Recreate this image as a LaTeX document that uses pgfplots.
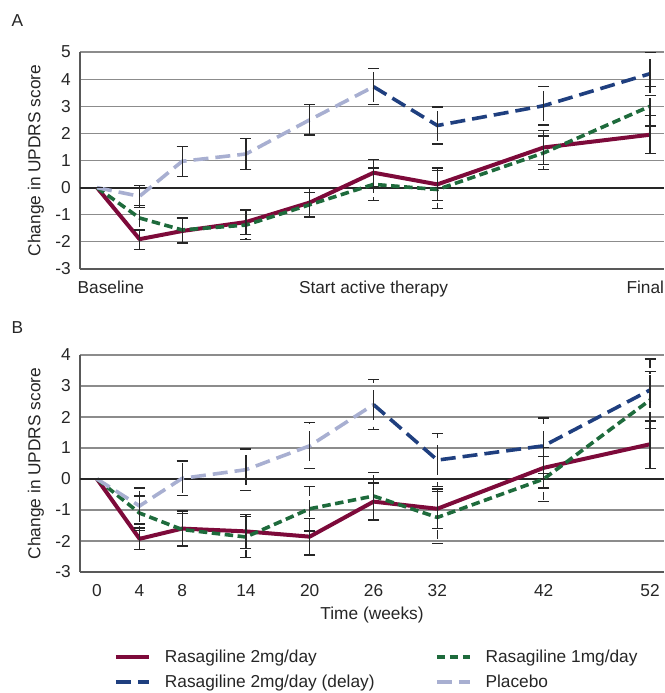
\documentclass[border=0pt]{standalone}
\usepackage{fontspec}
\setmainfont{Liberation Sans}
\usepackage{pgfplots}
\pgfplotsset{compat=1.18}
\usepackage{pgfplotstable}

\definecolor{cRed}{HTML}{7D0A3A}
\definecolor{cGreen}{HTML}{1E6B3C}
\definecolor{cBlue}{HTML}{1F3F7F}
\definecolor{cPlac}{HTML}{A8AFD1}

% Panel A
\pgfplotstableread{
x y e
0 0 0
4 -1.90 0.37
8 -1.60 0.47
14 -1.27 0.47
20 -0.55 0.55
26 0.55 0.50
32 0.12 0.60
42 1.48 0.62
52 1.95 0.70
}\ARed
\pgfplotstableread{
x y e
0 0 0
4 -1.12 0.45
8 -1.56 0.45
14 -1.38 0.53
20 -0.63 0.45
26 0.12 0.60
32 -0.07 0.70
42 1.28 0.62
52 3.00 0.73
}\AGreen
\pgfplotstableread{
x y e
0 0 0
4 -0.32 0.40
8 0.97 0.55
14 1.24 0.57
20 2.50 0.56
26 3.72 0.66
}\APlac
\pgfplotstableread{
x y e
26 3.72 0.66
32 2.29 0.68
42 3.02 0.71
52 4.20 0.79
}\ADelay
% Panel B
\pgfplotstableread{
x y e
0 0 0
4 -1.93 0.35
8 -1.60 0.57
14 -1.69 0.55
20 -1.86 0.59
26 -0.73 0.60
32 -0.96 0.64
42 0.36 0.65
52 1.12 0.77
}\BRed
\pgfplotstableread{
x y e
0 0 0
4 -1.10 0.55
8 -1.63 0.52
14 -1.87 0.65
20 -0.96 0.72
26 -0.55 0.77
32 -1.24 0.83
42 0.00 0.72
52 2.55 0.93
}\BGreen
\pgfplotstableread{
x y e
0 0 0
4 -0.87 0.58
8 0.02 0.56
14 0.30 0.67
20 1.07 0.74
26 2.40 0.80
}\BPlac
\pgfplotstableread{
x y e
26 2.40 0.80
32 0.61 0.86
42 1.07 0.90
52 2.87 1.00
}\BDelay

\pgfplotsset{
 panel/.style={
  scale only axis, width=584pt, height=217pt,
  xmin=-1.6, xmax=53.31,
  axis x line*=bottom, axis y line*=left,
  axis line style={draw=black!65, line width=1.2pt},
  ymajorgrids, grid style={black!45, line width=1.1pt},
  major tick length=0pt, tick style={draw=none},
  yticklabel style={inner sep=0pt, xshift=-9pt, text=black!85},
  xticklabel style={anchor=base, inner sep=0pt, yshift=-24.5pt, text=black!85},
  ylabel={Change in UPDRS score},
  ylabel style={at={(axis description cs:-0.0753,0.5)}, anchor=center, text=black!85},
  extra y ticks={0}, extra y tick labels={},
  extra y tick style={grid style={black!85, line width=1.8pt}},
  clip=false,
  error bars/error bar style={black!85, line width=1.2pt},
  error bars/error mark options={rotate=90, mark size=5.5pt, line width=1.2pt, black!85},
  legend image code/.code={\draw[##1] (0pt,0pt) -- (33pt,0pt);},
 },
 sRed/.style={cRed, line width=4pt, line join=round},
 sGreen/.style={cGreen, line width=3.6pt, dash pattern=on 8.5pt off 4.5pt},
 sBlue/.style={cBlue, line width=3.6pt, dash pattern=on 15pt off 7pt},
 sPlac/.style={cPlac, line width=3.6pt, dash pattern=on 15pt off 7pt},
}

\begin{document}
\begin{tikzpicture}[font=\fontsize{17.3}{20.8}\selectfont]
\node[anchor=base west, text=black!85] at (8pt,666pt) {A};
\node[anchor=base west, text=black!85] at (8pt,359pt) {B};

\begin{axis}[panel, at={(80pt,424pt)}, anchor=south west,
  ymin=-3, ymax=5, ytick={-3,-2,-1,0,1,2,3,4,5},
  yticklabels={-3,-2,-1,0,1,2,3,4,5},
  xtick={1.3,26,51.55}, xticklabels={Baseline,Start active therapy,Final}]
\addplot[sRed, error bars/.cd, y dir=both, y explicit] table[x=x,y=y,y error=e] {\ARed};
\addplot[sGreen, error bars/.cd, y dir=both, y explicit] table[x=x,y=y,y error=e] {\AGreen};
\addplot[sBlue, error bars/.cd, y dir=both, y explicit] table[x=x,y=y,y error=e] {\ADelay};
\addplot[sPlac, error bars/.cd, y dir=both, y explicit] table[x=x,y=y,y error=e] {\APlac};
\end{axis}

\begin{axis}[panel, at={(80pt,121pt)}, anchor=south west,
  ymin=-3, ymax=4, ytick={-3,-2,-1,0,1,2,3,4},
  yticklabels={-3,-2,-1,0,1,2,3,4},
  xtick={0,4,8,14,20,26,32,42,52}, xticklabels={0,4,8,14,20,26,32,42,52},
  xlabel={Time (weeks)},
  xlabel style={at={(axis description cs:0.5,0)}, anchor=center, yshift=-43pt, text=black!85},
  legend columns=2,
  legend cell align=left,
  legend style={at={(axis description cs:0.0582,-0.3589)}, anchor=north west,
    draw=none, fill=none, inner sep=0pt, outer sep=0pt, row sep=11pt,
    nodes={inner sep=0pt, text=black!85},
    /tikz/every odd column/.append style={column sep=14pt},
    /tikz/every even column/.append style={column sep=10pt}},
  ]
\addplot[sRed, error bars/.cd, y dir=both, y explicit] table[x=x,y=y,y error=e] {\BRed};
\addlegendentry{\makebox[260pt][l]{Rasagiline 2mg/day}}
\addplot[sGreen, error bars/.cd, y dir=both, y explicit] table[x=x,y=y,y error=e] {\BGreen};
\addlegendentry{Rasagiline 1mg/day}
\addplot[sBlue, error bars/.cd, y dir=both, y explicit] table[x=x,y=y,y error=e] {\BDelay};
\addlegendentry{\makebox[260pt][l]{Rasagiline 2mg/day (delay)}}
\addplot[sPlac, error bars/.cd, y dir=both, y explicit] table[x=x,y=y,y error=e] {\BPlac};
\addlegendentry{Placebo}
\end{axis}
\pgfresetboundingbox
\useasboundingbox (0,0) rectangle (664pt,693pt);
\end{tikzpicture}
\end{document}
